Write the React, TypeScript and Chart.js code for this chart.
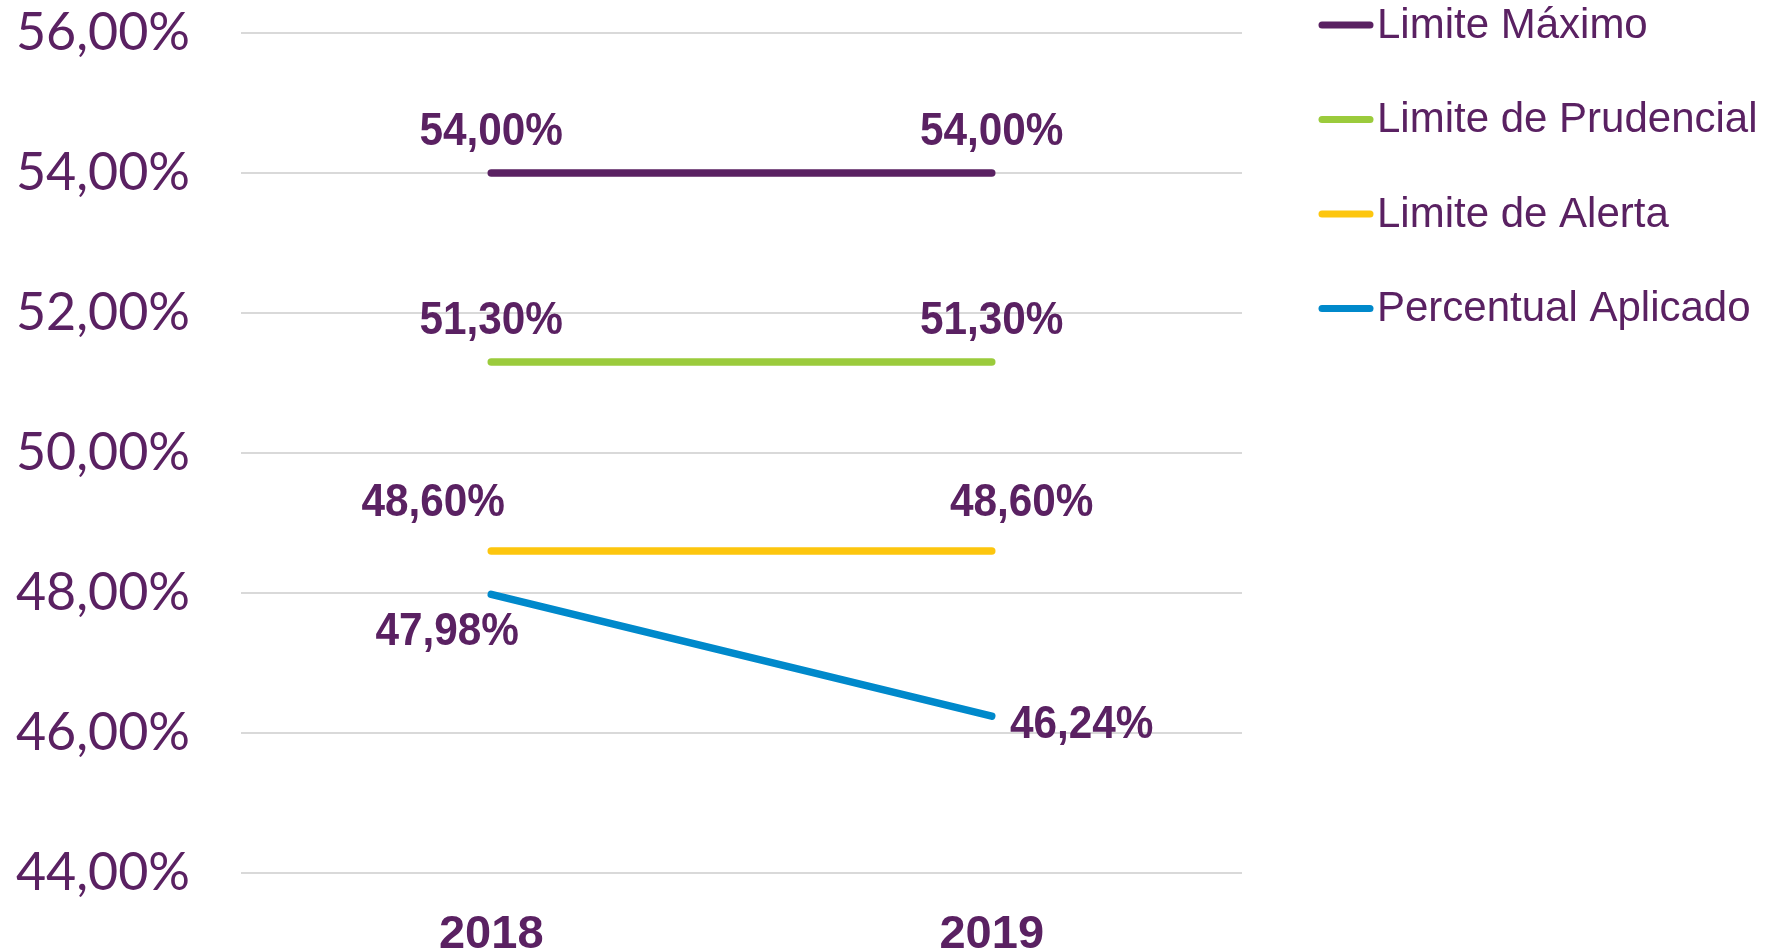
import React, { useEffect, useRef } from "react";
import { Chart, registerables } from "chart.js";

Chart.register(...registerables);

const years = ["2018", "2019"];
const limiteMaximo = [54.0, 54.0];
const limitePrudencial = [51.3, 51.3];
const limiteAlerta = [48.6, 48.6];
const percentualAplicado = [47.98, 46.24];
const seriesNames = ["Limite Máximo", "Limite de Prudencial", "Limite de Alerta", "Percentual Aplicado"];
const yMin = 44;
const yMax = 56;
const yStep = 2;

const TEXT = "#5A2162";
const COLORS = ["#5A2162", "#9BCB3C", "#FDC60E", "#0089CB"];

// label offsets (style, px) relative to each point
const labelOffsets = [
  [[0, -41], [0, -41]],
  [[0, -41], [0, -41]],
  [[-58, -48], [30, -48]],
  [[-44, 38], [90, 9]],
];

const fmt = (v: number) => v.toFixed(2).replace(".", ",") + "%";

const labelPlugin = {
  id: "pointLabels",
  afterDatasetsDraw(chart: any) {
    const ctx = chart.ctx;
    chart.data.datasets.forEach((ds: any, i: number) => {
      const meta = chart.getDatasetMeta(i);
      meta.data.forEach((el: any, j: number) => {
        const [dx, dy] = labelOffsets[i][j];
        ctx.save();
        ctx.translate(el.x + dx, el.y + dy);
        ctx.scale(0.9, 1);
        ctx.font = "bold 47px 'Liberation Sans', Arial, sans-serif";
        ctx.fillStyle = TEXT;
        ctx.textAlign = "center";
        ctx.textBaseline = "middle";
        ctx.fillText(fmt(ds.data[j]), 0, 0);
        ctx.restore();
      });
    });
  },
};

const legendPlugin = {
  id: "customLegend",
  afterDraw(chart: any) {
    const ctx = chart.ctx;
    ctx.save();
    const x0 = 1322;
    const x1 = 1370;
    const y0 = 25;
    const gap = 94.5;
    chart.data.datasets.forEach((ds: any, i: number) => {
      const y = y0 + i * gap;
      ctx.strokeStyle = ds.borderColor;
      ctx.lineWidth = 7;
      ctx.lineCap = "round";
      ctx.beginPath();
      ctx.moveTo(x0, y);
      ctx.lineTo(x1, y);
      ctx.stroke();
      ctx.fillStyle = TEXT;
      ctx.font = "42px 'Liberation Sans', Arial, sans-serif";
      ctx.textAlign = "left";
      ctx.textBaseline = "middle";
      ctx.fillText(ds.label, 1377, y + 1);
    });
    ctx.restore();
  },
};

export default function App() {
  const ref = useRef<HTMLCanvasElement | null>(null);
  useEffect(() => {
    if (!ref.current) return;
    const values = [limiteMaximo, limitePrudencial, limiteAlerta, percentualAplicado];
    const chart = new Chart(ref.current, {
      type: "line",
      data: {
        labels: years,
        datasets: values.map((d, i) => ({
          label: seriesNames[i],
          data: d,
          borderColor: COLORS[i],
          backgroundColor: COLORS[i],
          borderWidth: 7.5,
          borderCapStyle: "round" as const,
          pointRadius: 0,
          tension: 0,
          fill: false,
        })),
      },
      options: {
        responsive: false,
        animation: false,
        layout: { padding: { top: 33, right: 533, left: 0, bottom: 0 } },
        plugins: { legend: { display: false }, tooltip: { enabled: false } },
        scales: {
          x: {
            offset: true,
            grid: { display: false },
            border: { display: false },
            ticks: {
              color: TEXT,
              padding: 26,
              font: { family: "'Liberation Sans', Arial, sans-serif", size: 47, weight: "bold" },
            },
            afterFit: (s: any) => {
              s.height = 78;
              s.paddingLeft = 0;
              s.paddingRight = 0;
            },
          },
          y: {
            min: yMin,
            max: yMax,
            border: { display: false },
            grid: { color: "#D9D9D9", lineWidth: 2, drawTicks: false },
            ticks: {
              stepSize: yStep,
              color: TEXT,
              padding: 51,
              font: { family: "Lato, 'DejaVu Sans', sans-serif", size: 52, weight: 400 as any },
              callback: (v: any) => fmt(Number(v)),
            },
            afterFit: (s: any) => {
              s.width = 241;
              s.paddingTop = 0;
              s.paddingBottom = 0;
            },
          },
        },
      },
      plugins: [labelPlugin, legendPlugin],
    });
    return () => chart.destroy();
  }, []);
  return (
    <div style={{ position: "absolute", left: 0, top: 0, width: 1775, height: 951, background: "#fff" }}>
      <canvas ref={ref} width={1775} height={951} style={{ display: "block" }} />
    </div>
  );
}
